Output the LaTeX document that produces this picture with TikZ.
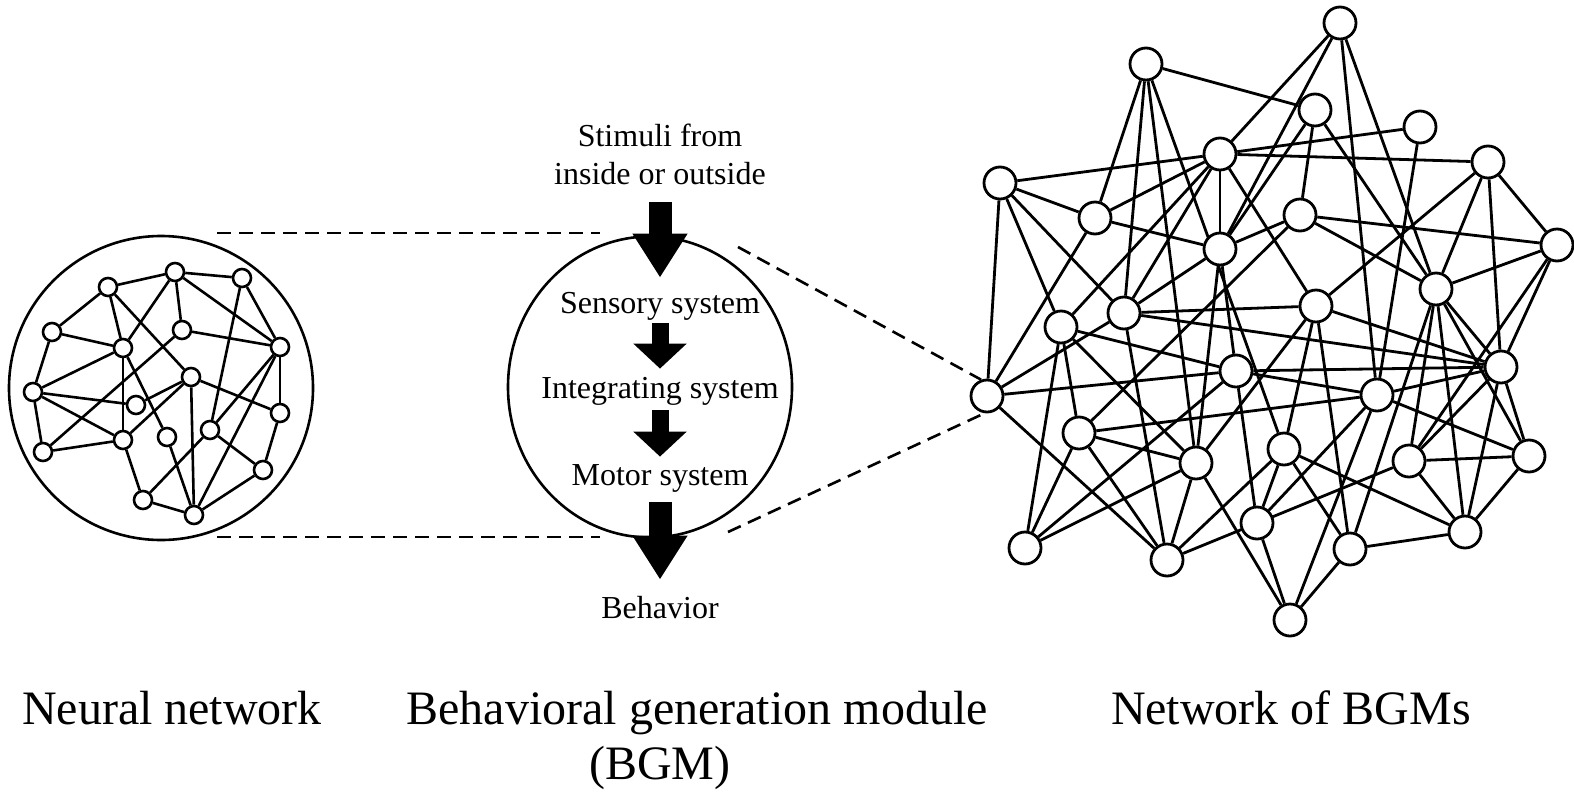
\documentclass[tikz,border=0pt]{standalone}
\usepackage{fontspec}
\setmainfont{Liberation Serif}
\usetikzlibrary{arrows.meta,shapes.geometric,backgrounds}

\tikzset{
  bnode/.style={circle, draw, fill=white, line width=1.4pt, minimum size=16pt, inner sep=0pt},
  nnode/.style={circle, draw, fill=white, line width=1.3pt, minimum size=9pt, inner sep=0pt},
  link/.style={line width=1.4pt},
  nlink/.style={line width=1.3pt},
  zoomline/.style={dash pattern=on 7pt off 4pt, line width=1.3pt},
  flowtext/.style={font=\fontsize{16}{19}\selectfont, inner sep=0pt, align=center},
  systext/.style={flowtext, anchor=base, text height=11pt, text depth=4pt},
  caption/.style={font=\fontsize{24}{28}\selectfont, anchor=base, inner sep=0pt},
  bigflow/.style={line width=11.5pt, -{Triangle[width=26pt,length=22pt]}},
  smallflow/.style={line width=8.5pt, -{Triangle[width=26pt,length=12.5pt]}},
}

\begin{document}
\begin{tikzpicture}[x=0.5pt, y=-0.5pt]
  \useasboundingbox (0,0) rectangle (1574,798);

  % Rede neural
  \node[circle, draw, line width=1.3pt, minimum size=152pt, inner sep=0pt] (nn) at (161,388) {};
  \foreach \n/\x/\y in {1/175/272, 2/242/278, 3/108/287, 4/52/332, 5/182/330, 6/123/348,
      7/280/347, 8/33/392, 9/191/377, 10/136/405, 11/280/413, 12/210/430, 13/167/437,
      14/43/452, 15/123/440, 16/263/470, 17/143/500, 18/194/515}
    \node[nnode] (b\n) at (\x,\y) {};
  \foreach \u/\v in {3/1, 1/2, 3/4, 3/6, 3/9, 1/6, 1/5, 1/7, 2/7, 2/12, 4/6, 4/8, 5/7,
      5/14, 6/8, 6/15, 6/13, 8/10, 8/15, 8/14, 9/10, 9/11, 9/15, 9/18, 7/11, 7/12, 7/18,
      11/16, 12/16, 12/17, 13/18, 14/15, 15/17, 17/18, 16/18}
    \draw[nlink] (b\u) -- (b\v);

  % Modulo BGM
  \node[ellipse, draw, line width=1.3pt, minimum width=142pt, minimum height=150.5pt, inner sep=0pt] (bgm) at (650,387) {};
  \node[flowtext] (stim) at (660,154) {Stimuli from\\inside or outside};
  \node[systext] (sens) at (660,313) {Sensory system};
  \node[systext] (integ) at (660,398) {Integrating system};
  \node[systext] (motor) at (660,485) {Motor system};
  \node[systext] (behav) at (660,618) {Behavior};

  \draw[bigflow, shorten <=8.5pt, shorten >=6.5pt] (stim.south) -- (sens.north);
  \draw[smallflow, shorten <=1pt, shorten >=3.5pt] (sens.south) -- (integ.north);
  \draw[smallflow, shorten <=2pt, shorten >=3pt] (integ.south) -- (motor.north);
  \draw[bigflow, shorten <=4.5pt, shorten >=8pt] (motor.south) -- (behav.north);

  % Rede de BGMs
  \foreach \n/\x/\y in {1/1340/23, 2/1146/64, 3/1315/110, 4/1420/127, 5/1220/154,
      6/1488/162, 7/1000/183, 8/1095/218, 9/1300/215, 10/1557/245, 11/1220/249,
      12/1436/289, 13/1316/306, 14/1124/313, 15/1061/327, 16/1501/367, 17/1236/371,
      18/1377/395, 19/987/396, 20/1079/433, 21/1284/449, 22/1529/456, 23/1196/463,
      24/1409/461, 25/1465/532, 26/1257/523, 27/1350/549, 28/1025/548, 29/1167/560,
      30/1290/620}
    \node[bnode] (a\n) at (\x,\y) {};
  \begin{scope}[on background layer]
    \foreach \u/\v in {1/5, 1/11, 1/18, 1/12, 2/3, 2/8, 2/14, 2/23, 2/21, 3/11, 3/9,
        3/12, 4/5, 4/18, 6/5, 6/13, 6/12, 6/16, 6/10, 5/7, 5/8, 5/11, 5/15, 5/14, 5/13,
        7/8, 7/19, 7/15, 7/14, 8/11, 8/19, 19/14, 19/17, 19/29, 15/17, 15/23, 15/28,
        15/20, 14/13, 14/16, 14/29, 14/11, 28/20, 28/17, 28/23, 20/9, 20/18, 20/23,
        20/29, 23/11, 23/13, 23/29, 23/30, 29/21, 29/24, 18/17, 18/16, 18/22, 18/26,
        18/30, 21/13, 21/27, 21/25, 21/26, 26/17, 26/30, 30/27, 27/13, 27/12, 27/25,
        12/10, 12/9, 12/16, 12/25, 12/24, 12/22, 24/16, 9/11, 9/10, 10/16, 10/24,
        16/22, 16/25, 22/24, 22/25, 24/25, 13/16, 16/17, 11/17}
      \draw[link] (a\u) -- (a\v);
  \end{scope}

  % Linhas tracejadas
  \coordinate (zl1) at (217,233);
  \coordinate (zr1) at (600,233);
  \coordinate (zl2) at (217,537);
  \coordinate (zr2) at (600,537);
  \coordinate (zs1) at (738,247);
  \coordinate (zs2) at (728,532);
  \draw[zoomline] (zl1) -- (zr1);
  \draw[zoomline] (zl2) -- (zr2);
  \draw[zoomline] (zs1) -- (a19.110);
  \draw[zoomline] (zs2) -- (a19.262);

  % Legendas
  \node[caption] (nnlab) at (172,724) {Neural network};
  \node[caption] (bgmlab) at (697,724) {Behavioral generation module};
  \node[caption] (bgmabbr) at (660,779) {(BGM)};
  \node[caption] (netlab) at (1291,724) {Network of BGMs};
\end{tikzpicture}
\end{document}
